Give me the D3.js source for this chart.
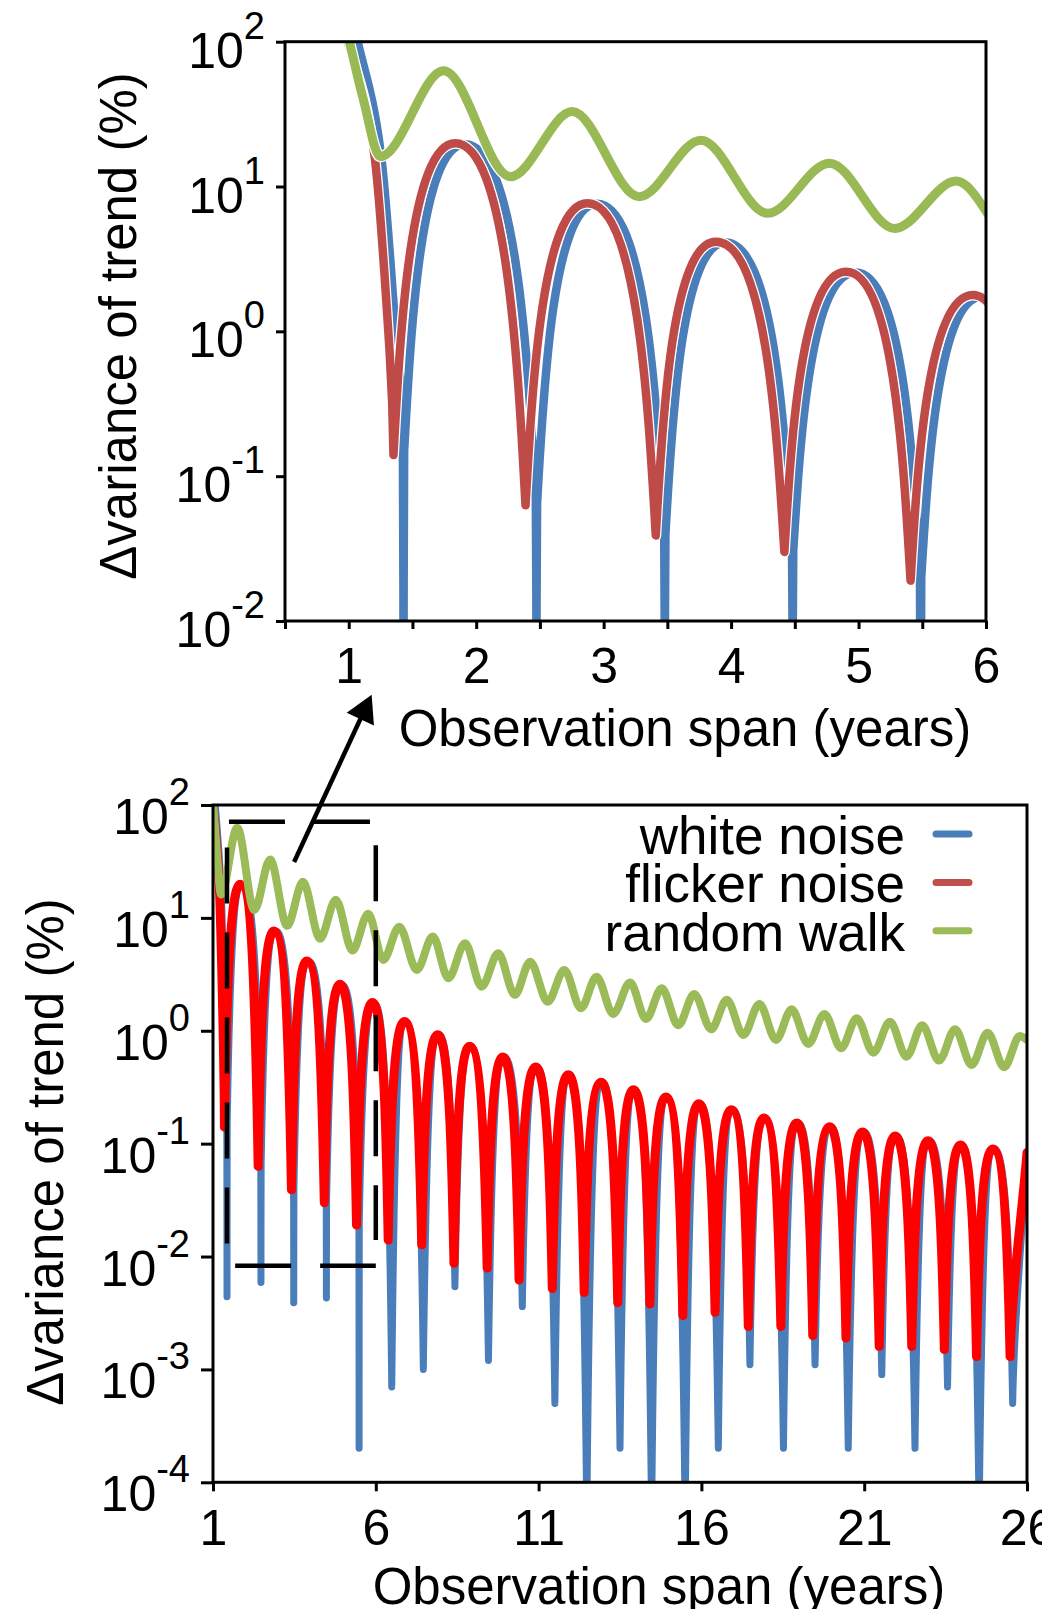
<!DOCTYPE html>
<html>
<head>
<meta charset="utf-8">
<script src="https://cdn.jsdelivr.net/npm/d3@7"></script>
<style>
  body { margin: 0; background: #fff; }
  svg { display: block; font-family: "Liberation Sans", Arial, sans-serif; }
</style>
</head>
<body>
<div id="chart"></div>
<script>
// values: [observation span (years), Δvariance of trend (%)]
var seriesNames = ["white noise", "flicker noise", "random walk"];

var whiteNoise = [
  [1.05, 120], [1.252, 16.9], [1.378, 0.74],
  [1.425, 0.15], [1.43, 0.0044], [1.435, 0.15],
  [1.911, 19.6], [2.468, 0.065], [2.473, 0.0059], [2.478, 0.065],
  [2.947, 7.6], [3.475, 0.04], [3.48, 0.0039], [3.485, 0.04],
  [3.955, 4.1], [4.478, 0.031], [4.483, 0.0043], [4.488, 0.031],
  [4.977, 2.55], [5.482, 0.02], [5.487, 0.0002], [5.492, 0.02],
  [5.973, 1.74], [6.49, 0.0007], [6.93, 1.21], [7.46, 0.001],
  [7.95, 0.92], [8.43, 0.0054], [8.93, 0.73], [9.46, 0.0012],
  [9.95, 0.586], [10.5, 0.0036], [10.96, 0.478], [11.5, 0.0005],
  [11.96, 0.408], [12.48, 0.00005], [12.97, 0.35], [13.5, 0.0002],
  [13.96, 0.301], [14.47, 0.00005], [14.96, 0.259], [15.5, 0.00005],
  [15.97, 0.226], [16.52, 0.0002], [16.97, 0.2], [17.49, 0.0011],
  [17.97, 0.169], [18.52, 0.0002], [18.98, 0.152], [19.49, 0.0011],
  [19.99, 0.141], [20.51, 0.0002], [21.0, 0.127], [21.54, 0.0009],
  [22.0, 0.117], [22.56, 0.0002], [23.01, 0.106], [23.56, 0.0007],
  [24.01, 0.0975], [24.53, 0.00005], [25.0, 0.0898], [25.56, 0.0005],
  [26.0, 0.085]
];

var flickerNoise = [
  [0.97, 120], [1.2, 16.9], [1.32, 0.74], [1.351, 0.14],
  [1.836, 19.9], [2.387, 0.063], [2.872, 7.66], [3.409, 0.039],
  [3.88, 4.16], [4.418, 0.03], [4.902, 2.58], [5.408, 0.019],
  [5.898, 1.78], [6.38, 0.014], [6.88, 1.21], [7.41, 0.0127],
  [7.9, 0.923], [8.4, 0.0087], [8.88, 0.729], [9.42, 0.0079],
  [9.9, 0.586], [10.4, 0.0062], [10.91, 0.478], [11.42, 0.0052],
  [11.91, 0.408], [12.4, 0.0048], [12.92, 0.35], [13.43, 0.0039],
  [13.91, 0.301], [14.42, 0.0038], [14.91, 0.259], [15.43, 0.003],
  [15.92, 0.226], [16.42, 0.0032], [16.92, 0.2], [17.44, 0.0024],
  [17.92, 0.169], [18.44, 0.0024], [18.93, 0.152], [19.42, 0.002],
  [19.94, 0.141], [20.44, 0.0019], [20.95, 0.127], [21.46, 0.0016],
  [21.95, 0.117], [22.46, 0.0016], [22.96, 0.106], [23.46, 0.0015],
  [23.96, 0.0975], [24.45, 0.0013], [24.95, 0.0898], [25.48, 0.0013],
  [26.0, 0.083]
];

var randomWalk = [
  [0.985, 120], [1.116, 39.5], [1.247, 16.1], [1.745, 63],
  [2.269, 11.7], [2.754, 32.9], [3.278, 8.5], [3.763, 20.9],
  [4.287, 6.53], [4.772, 14.5], [5.283, 5.14], [5.767, 10.9],
  [6.23, 4.24], [6.72, 8.36], [7.26, 3.46], [7.75, 6.83],
  [8.23, 2.92], [8.74, 5.96], [9.25, 2.46], [9.76, 4.85],
  [10.27, 2.08], [10.74, 4.09], [11.28, 1.81], [11.79, 3.46],
  [12.3, 1.58], [12.78, 3.01], [13.29, 1.41], [13.81, 2.67],
  [14.3, 1.27], [14.78, 2.38], [15.29, 1.12], [15.78, 2.12],
  [16.3, 1.03], [16.78, 1.88], [17.29, 0.918], [17.78, 1.73],
  [18.29, 0.83], [18.77, 1.55], [19.28, 0.764], [19.78, 1.41],
  [20.29, 0.7], [20.77, 1.29], [21.28, 0.64], [21.79, 1.2],
  [22.3, 0.59], [22.78, 1.12], [23.3, 0.544], [23.79, 1.03],
  [24.3, 0.498], [24.79, 0.96], [25.3, 0.475], [25.78, 0.9],
  [26.0, 0.83]
];

var topXTicks = [0.5, 1, 1.5, 2, 2.5, 3, 3.5, 4, 4.5, 5, 5.5, 6];
var bottomXTicks = [1, 6, 11, 16, 21, 26];
var topYTicks = [1e-2, 1e-1, 1, 10, 100];
var bottomYTicks = [1e-4, 1e-3, 1e-2, 1e-1, 1, 10, 100];

// dashed box in the lower panel (lower panel units)
var zoomBox = [
  [[1.49, 71], [5.85, 71]],
  [[1.68, 0.0083], [6.0, 0.0083]],
  [[1.43, 42], [1.43, 0.013]],
  [[6.0, 44], [6.0, 0.014]]
];
var arrowFrom = [3.49, 31.3];   // lower panel units
var arrowTo = [1.18, 0.0031];   // upper panel units

var W = 1042, H = 1609;
var svg = d3.select('#chart').append('svg').attr('width', W).attr('height', H);

// cusps at the minima, round domes at the maxima
function archCurve(context) {
  var pts;
  return {
    areaStart: function() {}, areaEnd: function() {},
    lineStart: function() { pts = []; },
    point: function(x, y) { pts.push([+x, +y]); },
    lineEnd: function() {
      var n = pts.length;
      if (!n) return;
      var kind = pts.map(function(p, i) {
        var a = pts[i - 1], b = pts[i + 1];
        if (!a || !b) return 'mid';
        if (p[1] > a[1] && p[1] > b[1]) return 'min';
        if (p[1] < a[1] && p[1] < b[1]) return 'max';
        return 'mid';
      });
      function slope(i) {
        var a = pts[Math.max(i - 1, 0)], b = pts[Math.min(i + 1, n - 1)];
        return (b[1] - a[1]) / (b[0] - a[0]);
      }
      function ctrl(i, j) {
        var p = pts[i], q = pts[j], dx = q[0] - p[0], dy = q[1] - p[1];
        if (kind[i] === 'min' || (kind[i] === 'mid' && kind[j] === 'max'))
          return [p[0] + 0.1 * dx, p[1] + 0.35 * dy];
        if (kind[i] === 'max') return [p[0] + 0.75 * dx, p[1]];
        var cy = p[1] + slope(i) * dx / 3;
        cy = Math.max(Math.min(cy, Math.max(p[1], q[1])), Math.min(p[1], q[1]));
        return [p[0] + dx / 3, cy];
      }
      context.moveTo(pts[0][0], pts[0][1]);
      for (var i = 0; i < n - 1; i++) {
        var c1 = ctrl(i, i + 1), c2 = ctrl(i + 1, i);
        context.bezierCurveTo(c1[0], c1[1], c2[0], c2[1], pts[i + 1][0], pts[i + 1][1]);
      }
    }
  };
}

var panels = [
  { id: 'clipTop', left: 285, right: 986, top: 41.7, bottom: 621,
    xDomain: [0.5, 6], yDomain: [1e-2, 1e2], xTicks: topXTicks, yTicks: topYTicks,
    xTickLen: 8, yTickLen: 9, xPad: 18.5, yLabGap: 20, yLabDy: 26,
    colors: ['#4a7ebb', '#be4b48', '#98b954'], widths: [8.5, 8.5, 9], outline: true,
    xTitle: [685, 746], yTitle: [136, 326] },
  { id: 'clipBottom', left: 213, right: 1027, top: 805, bottom: 1482.3,
    xDomain: [1, 26], yDomain: [1e-4, 1e2], xTicks: bottomXTicks, yTicks: bottomYTicks,
    xTickLen: 9, yTickLen: 12, xPad: 18.2, yLabGap: 23, yLabDy: 29,
    colors: ['#4a7ebb', '#ff0000', '#9bbb59'], widths: [7, 9, 8], outline: false,
    xTitle: [659, 1604], yTitle: [63, 1152] }
];

var series = [whiteNoise, flickerNoise, randomWalk];
var curves = [archCurve, archCurve, d3.curveMonotoneX];

var scales = panels.map(function(p) {
  var x = d3.scaleLinear().domain(p.xDomain).range([p.left, p.right]);
  var y = d3.scaleLog().domain(p.yDomain).range([p.bottom, p.top]);
  var g = svg.append('g');

  g.append('clipPath').attr('id', p.id).append('rect')
    .attr('x', p.left).attr('y', p.top)
    .attr('width', p.right - p.left).attr('height', p.bottom - p.top);

  var gx = g.append('g').attr('transform', 'translate(0,' + p.bottom + ')')
    .call(d3.axisBottom(x).tickValues(p.xTicks).tickSize(p.xTickLen).tickSizeOuter(0)
      .tickPadding(p.xPad).tickFormat(function(d) { return Number.isInteger(d) ? d : ''; }));
  gx.attr('font-family', null).attr('font-size', 50);
  gx.select('.domain').remove();
  gx.selectAll('line').attr('stroke', '#000').attr('stroke-width', 3);
  gx.selectAll('text').attr('fill', '#000');

  var gy = g.append('g').attr('transform', 'translate(' + p.left + ',0)')
    .call(d3.axisLeft(y).tickValues(p.yTicks).tickSize(p.yTickLen).tickSizeOuter(0).tickFormat(''));
  gy.select('.domain').remove();
  gy.selectAll('line').attr('stroke', '#000').attr('stroke-width', 3);

  var lab = g.selectAll('text.ylab').data(p.yTicks).enter().append('text')
    .attr('class', 'ylab')
    .attr('x', p.left - p.yLabGap).attr('y', function(d) { return y(d) + p.yLabDy; })
    .attr('text-anchor', 'end').attr('font-size', 50);
  lab.append('tspan').text('10');
  lab.append('tspan').attr('dy', -29).attr('font-size', 38)
    .text(function(d) { return Math.round(Math.log10(d)); });

  var plot = g.append('g').attr('clip-path', 'url(#' + p.id + ')');
  series.forEach(function(data, i) {
    var line = d3.line().x(function(d) { return x(d[0]); }).y(function(d) { return y(d[1]); })
      .curve(curves[i]);
    if (p.outline) {
      plot.append('path').attr('d', line(data)).attr('fill', 'none')
        .attr('stroke', '#fff').attr('stroke-width', p.widths[i] + 2.5)
        .attr('stroke-linejoin', 'round').attr('stroke-linecap', 'round');
    }
    plot.append('path').attr('d', line(data)).attr('fill', 'none')
      .attr('stroke', p.colors[i]).attr('stroke-width', p.widths[i])
      .attr('stroke-linejoin', 'round').attr('stroke-linecap', 'round');
  });

  g.append('rect').attr('x', p.left).attr('y', p.top)
    .attr('width', p.right - p.left).attr('height', p.bottom - p.top)
    .attr('fill', 'none').attr('stroke', '#000').attr('stroke-width', 3);

  g.append('text').attr('x', p.xTitle[0]).attr('y', p.xTitle[1])
    .attr('text-anchor', 'middle').attr('font-size', 51).text('Observation span (years)');
  g.append('text')
    .attr('transform', 'translate(' + p.yTitle[0] + ',' + p.yTitle[1] + ') rotate(-90)')
    .attr('text-anchor', 'middle').attr('font-size', 51).text('\u0394variance of trend (%)');

  return { x: x, y: y, g: g };
});

// legend (lower panel)
var low = scales[1];
var legendColors = ['#4a7ebb', '#c0504d', '#9bbb59'];
var leg = svg.append('g').selectAll('g').data(seriesNames).enter().append('g')
  .attr('transform', function(d, i) { return 'translate(0,' + (854 + i * 48.4) + ')'; });
leg.append('text').attr('x', 905).attr('text-anchor', 'end').attr('font-size', 53)
  .text(function(d) { return d; });
leg.append('line').attr('x1', 936).attr('x2', 969).attr('y1', -20).attr('y2', -20)
  .attr('stroke', function(d, i) { return legendColors[i]; })
  .attr('stroke-width', 7).attr('stroke-linecap', 'round');

// dashed box marking the upper panel's range
svg.append('g').selectAll('line').data(zoomBox).enter().append('line')
  .attr('x1', function(d) { return low.x(d[0][0]); })
  .attr('y1', function(d) { return low.y(d[0][1]); })
  .attr('x2', function(d) { return low.x(d[1][0]); })
  .attr('y2', function(d) { return low.y(d[1][1]); })
  .attr('stroke', '#000').attr('stroke-width', 4.5).attr('stroke-dasharray', '56,29');

// arrow from the box to the upper panel
var up = scales[0];
var ax0 = low.x(arrowFrom[0]), ay0 = low.y(arrowFrom[1]);
var ax1 = up.x(arrowTo[0]), ay1 = up.y(arrowTo[1]);
var ang = Math.atan2(ay1 - ay0, ax1 - ax0);
var headLen = 27, headHalf = 15;
svg.append('line')
  .attr('x1', ax0).attr('y1', ay0)
  .attr('x2', ax1 - (headLen - 4) * Math.cos(ang)).attr('y2', ay1 - (headLen - 4) * Math.sin(ang))
  .attr('stroke', '#000').attr('stroke-width', 4.5);
var bx = ax1 - headLen * Math.cos(ang), by = ay1 - headLen * Math.sin(ang);
svg.append('path')
  .attr('d', 'M' + ax1 + ',' + ay1 +
    'L' + (bx + headHalf * Math.sin(ang)) + ',' + (by - headHalf * Math.cos(ang)) +
    'L' + (bx - headHalf * Math.sin(ang)) + ',' + (by + headHalf * Math.cos(ang)) + 'Z')
  .attr('fill', '#000');
</script>
</body>
</html>
